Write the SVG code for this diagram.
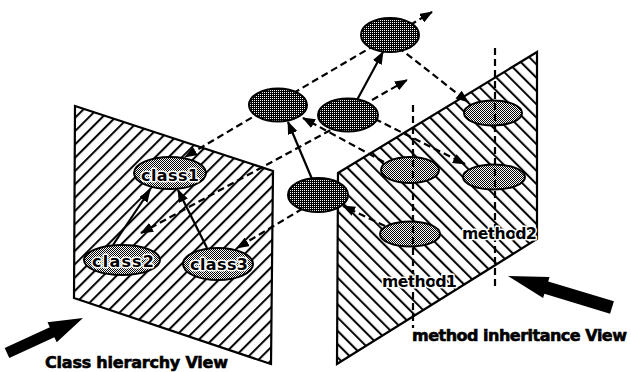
<svg xmlns="http://www.w3.org/2000/svg" width="631" height="372" viewBox="0 0 631 372">
<defs>
<style>
.plane{stroke:#000;stroke-width:2.2;stroke-linejoin:miter}
.ln{fill:none;stroke:#000;stroke-width:2.2}
.d{stroke-dasharray:7 4}
.arr{marker-end:url(#ah)}
.dn{fill:url(#dotD);stroke:#000;stroke-width:2}
.lt{fill:url(#dotL);stroke:#000;stroke-width:2}
.lbl{font-family:"DejaVu Sans","Liberation Sans",sans-serif;font-weight:bold;fill:#000}
.heavy{stroke:#000;stroke-width:0.6}
.halo{stroke:#fff;stroke-width:3;paint-order:stroke;stroke-linejoin:round}
.big{fill:#000}
</style>
<pattern id="hatchL" patternUnits="userSpaceOnUse" width="9.4" height="9.4" patternTransform="rotate(45)">
<rect width="9.4" height="9.4" fill="#fff"/><rect x="3.8" width="2" height="9.4" fill="#000"/>
</pattern>
<pattern id="hatchR" patternUnits="userSpaceOnUse" width="9.4" height="9.4" patternTransform="rotate(-45)">
<rect width="9.4" height="9.4" fill="#fff"/><rect x="3.8" width="2" height="9.4" fill="#000"/>
</pattern>
<pattern id="dotL" patternUnits="userSpaceOnUse" width="2" height="2">
<rect width="2" height="2" fill="#fff"/><rect width="1" height="1" fill="#000"/><rect x="1" y="1" width="1" height="1" fill="#000"/>
</pattern>
<pattern id="dotD" patternUnits="userSpaceOnUse" width="2" height="2">
<rect width="2" height="2" fill="#000"/><rect width="1" height="1" fill="#fff"/>
</pattern>
<marker id="ah" viewBox="0 0 13 10" refX="12" refY="5" markerWidth="13" markerHeight="10" markerUnits="userSpaceOnUse" orient="auto">
<path d="M0,0 L13,5 L0,10 z" fill="#000"/>
</marker>
</defs>
<rect width="631" height="372" fill="#fff"/>

<g id="plane-class">
<polygon class="plane" fill="url(#hatchL)" points="75,106 273,171 271,364 74,298"/>
</g>
<g id="plane-method">
<polygon class="plane" fill="url(#hatchR)" points="338,173 537,52 537,239 337,364"/>
</g>

<g id="connectors">
<path class="ln d arr" d="M375,45 L185,157"/>
<path class="ln d arr" d="M340,125 L141,233"/>
<path class="ln d arr" d="M312,203 L237,248"/>
<path class="ln d arr" d="M398,47 L468,102"/>
<path class="ln d arr" d="M365,114 L465,164"/>
<path class="ln d arr" d="M384,162 L303,118"/>
<path class="ln d arr" d="M385,226 L343,206"/>
<path class="ln d arr" d="M372,100 L407,80"/>
<path class="ln d arr" d="M410,25 L432,12"/>
<path class="ln arr" d="M357,100 L383,52"/>
<path class="ln arr" d="M312,179 L288,122"/>
<path class="ln arr" d="M113,245 L150,190"/>
<path class="ln arr" d="M207,248 L178,190"/>
</g>

<g id="n-top"><ellipse class="dn" cx="390" cy="35" rx="29" ry="17"/></g>
<g id="n-upperleft"><ellipse class="dn" cx="278" cy="105" rx="29" ry="16.5"/></g>
<g id="n-middle"><ellipse class="dn" cx="348" cy="115" rx="30" ry="16.5"/></g>
<g id="n-lower"><ellipse class="dn" cx="318" cy="195" rx="30" ry="17"/></g>

<g id="class1"><ellipse class="lt" cx="170" cy="173" rx="36" ry="16"/><text class="lbl halo" x="141" y="181" font-size="16" textLength="58">class1</text></g>
<g id="class2"><ellipse class="lt" cx="122" cy="260" rx="38" ry="15"/><text class="lbl halo" x="92" y="267" font-size="16" textLength="62">class2</text></g>
<g id="class3"><ellipse class="lt" cx="218" cy="264" rx="35" ry="16"/><text class="lbl halo" x="190" y="270" font-size="16" textLength="58">class3</text></g>

<g id="m-upper"><ellipse class="lt" cx="493" cy="113" rx="29" ry="12.5"/></g>
<g id="m-midleft"><ellipse class="lt" cx="410" cy="170" rx="29" ry="13"/></g>
<g id="m-right"><ellipse class="lt" cx="494" cy="177" rx="31" ry="12.5"/></g>
<g id="m-bottom"><ellipse class="lt" cx="410" cy="234" rx="30" ry="12.5"/></g>

<g id="projection-lines">
<path class="ln d" d="M413,105 L413,328"/>
<path class="ln d" d="M495,48 L495,286"/>
</g>

<g id="labels">
<text class="lbl halo" x="382" y="287" font-size="16" textLength="75">method1</text>
<text class="lbl halo" x="462" y="239" font-size="16" textLength="75">method2</text>
<text class="lbl heavy" x="412" y="341" font-size="16" textLength="215">method inheritance View</text>
<text class="lbl heavy" x="45" y="368" font-size="16" textLength="183">Class hierarchy View</text>
</g>

<g id="view-arrows">
<polygon class="big" points="83,318 56.7,342.2 54.4,337.2 9.3,358 4.7,348 49.8,327.2 47.5,322.2"/>
<polygon class="big" points="508,276 549.5,277.1 548.2,281.4 613.9,301.3 610.1,313.7 544.4,293.8 543.1,298.1"/>
</g>
</svg>
